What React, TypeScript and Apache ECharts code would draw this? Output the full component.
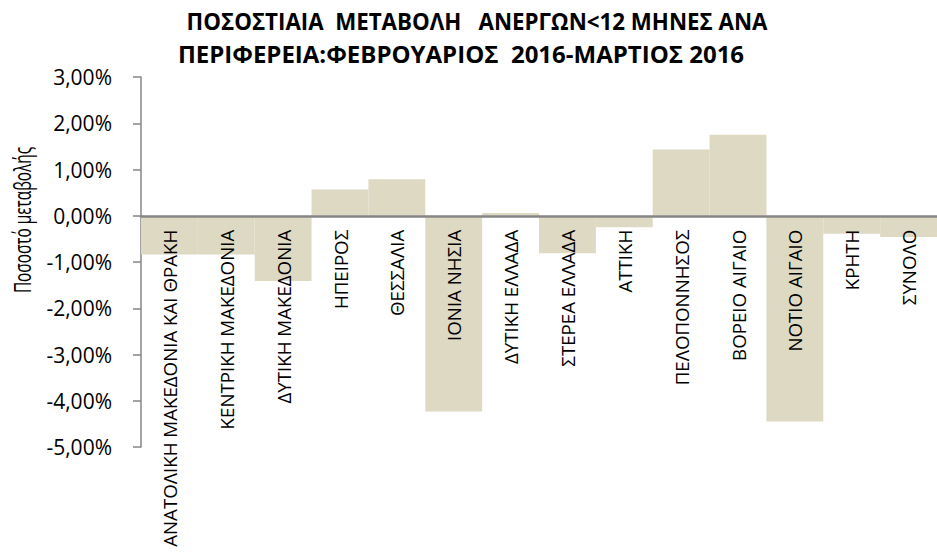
import React, { useEffect, useRef } from "react";
import * as echarts from "echarts";

const categories = [
  "ΑΝΑΤΟΛΙΚΗ ΜΑΚΕΔΟΝΙΑ ΚΑΙ ΘΡΑΚΗ",
  "ΚΕΝΤΡΙΚΗ ΜΑΚΕΔΟΝΙΑ",
  "ΔΥΤΙΚΗ ΜΑΚΕΔΟΝΙΑ",
  "ΗΠΕΙΡΟΣ",
  "ΘΕΣΣΑΛΙΑ",
  "ΙΟΝΙΑ ΝΗΣΙΑ",
  "ΔΥΤΙΚΗ ΕΛΛΑΔΑ",
  "ΣΤΕΡΕΑ ΕΛΛΑΔΑ",
  "ΑΤΤΙΚΗ",
  "ΠΕΛΟΠΟΝΝΗΣΟΣ",
  "ΒΟΡΕΙΟ ΑΙΓΑΙΟ",
  "ΝΟΤΙΟ ΑΙΓΑΙΟ",
  "ΚΡΗΤΗ",
  "ΣΥΝΟΛΟ",
];

// percentage change (%)
const changeValues = [
  -0.84, -0.84, -1.41, 0.57, 0.79, -4.23, 0.06, -0.81, -0.25, 1.43, 1.75, -4.45,
  -0.39, -0.46,
];

const titleLine1 = "ΠΟΣΟΣΤΙΑΙΑ  ΜΕΤΑΒΟΛΗ   ΑΝΕΡΓΩΝ<12 ΜΗΝΕΣ ΑΝΑ";
const titleLine2 = "ΠΕΡΙΦΕΡΕΙΑ:ΦΕΒΡΟΥΑΡΙΟΣ  2016-ΜΑΡΤΙΟΣ 2016";
const yAxisTitle = "Ποσοστό μεταβολής";

const FONT = "'Open Sans', 'Noto Sans', sans-serif";
const Y_MIN = -5;
const Y_MAX = 3;
const GRID_TOP = 77;
const GRID_BOTTOM = 105;
const GRID_H = 552 - GRID_TOP - GRID_BOTTOM;

export default function App() {
  const ref = useRef<HTMLDivElement>(null);

  useEffect(() => {
    document.body.style.margin = "0";
    if (!ref.current) return;
    const chart = echarts.init(ref.current, undefined, { renderer: "svg" });
    // place the category axis (line + labels) at the zero value
    const zeroOffset = -(GRID_H * (0 - Y_MIN)) / (Y_MAX - Y_MIN);
    const titleStyle = {
      fontFamily: FONT,
      fontWeight: "bold",
      color: "#000000",
    };
    chart.setOption({
      animation: false,
      backgroundColor: "#ffffff",
      title: [
        {
          text: titleLine1,
          left: 477,
          textAlign: "center",
          top: 5,
          padding: 0,
          textStyle: { ...titleStyle, fontSize: 22.3, lineHeight: 32 },
        },
        {
          text: titleLine2,
          left: 461,
          textAlign: "center",
          top: 37,
          padding: 0,
          textStyle: { ...titleStyle, fontSize: 24, lineHeight: 32 },
        },
      ],
      graphic: [
        {
          type: "text",
          x: 21,
          y: 220,
          rotation: Math.PI / 2,
          scaleX: 0.64,
          style: {
            text: yAxisTitle,
            fontFamily: FONT,
            fontSize: 24,
            fill: "#000000",
            textAlign: "center",
            textVerticalAlign: "middle",
          },
        },
      ],
      grid: {
        left: 141,
        right: 0,
        top: GRID_TOP,
        bottom: GRID_BOTTOM,
        containLabel: false,
        outerBoundsMode: "none",
      },
      xAxis: {
        type: "category",
        data: categories,
        z: 5,
        position: "bottom",
        offset: zeroOffset,
        axisLine: { onZero: false, lineStyle: { color: "#868686", width: 2.5 } },
        axisTick: { show: false },
        axisLabel: {
          rotate: 90,
          interval: 0,
          margin: 14,
          fontFamily: FONT,
          fontSize: 18.7,
          color: "#000000",
        },
      },
      yAxis: {
        type: "value",
        min: Y_MIN,
        max: Y_MAX,
        interval: 1,
        splitLine: { show: false },
        axisLine: { show: true, lineStyle: { color: "#868686", width: 1.5 } },
        axisTick: { show: true, length: 8, lineStyle: { color: "#868686", width: 1.5 } },
        axisLabel: {
          margin: 29,
          fontFamily: FONT,
          fontSize: 21,
          color: "#000000",
          formatter: (v: number) => v.toFixed(2).replace(".", ",") + "%",
        },
      },
      series: [
        {
          type: "bar",
          data: changeValues,
          barCategoryGap: "0%",
          itemStyle: { color: "#DDD9C3" },
        },
      ],
    });
    return () => chart.dispose();
  }, []);

  return <div ref={ref} style={{ width: 937, height: 552 }} />;
}
